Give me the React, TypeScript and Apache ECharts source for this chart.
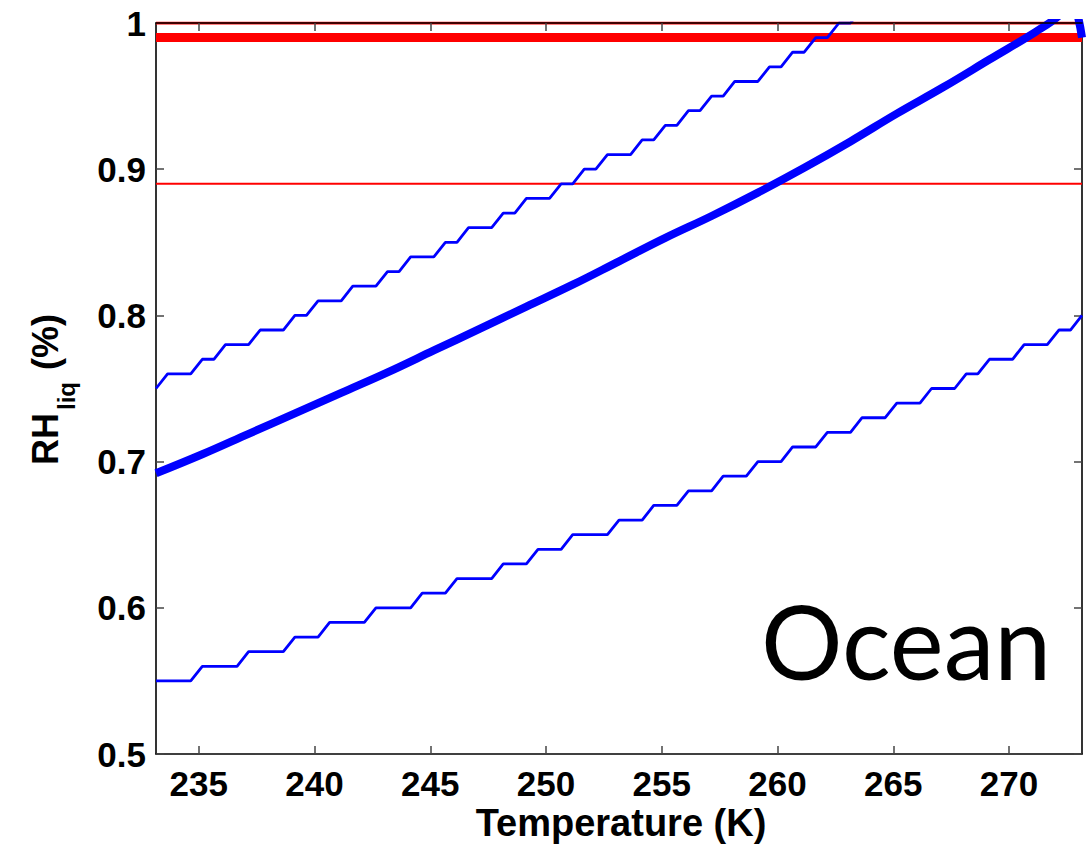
import React, { useEffect, useRef } from 'react';
import * as echarts from 'echarts';

// Temperature grid (K) of the stepped curves
const stepTemps = [
  233.15, 233.65, 234.15, 234.65, 235.15, 235.65, 236.15, 236.65, 237.15, 237.65,
  238.15, 238.65, 239.15, 239.65, 240.15, 240.65, 241.15, 241.65, 242.15, 242.65,
  243.15, 243.65, 244.15, 244.65, 245.15, 245.65, 246.15, 246.65, 247.15, 247.65,
  248.15, 248.65, 249.15, 249.65, 250.15, 250.65, 251.15, 251.65, 252.15, 252.65,
  253.15, 253.65, 254.15, 254.65, 255.15, 255.65, 256.15, 256.65, 257.15, 257.65,
  258.15, 258.65, 259.15, 259.65, 260.15, 260.65, 261.15, 261.65, 262.15, 262.65,
  263.15, 263.65, 264.15, 264.65, 265.15, 265.65, 266.15, 266.65, 267.15, 267.65,
  268.15, 268.65, 269.15, 269.65, 270.15, 270.65, 271.15, 271.65, 272.15, 272.65,
  273.15,
];

const upperStep = [
  0.75, 0.76, 0.76, 0.76, 0.77, 0.77, 0.78, 0.78, 0.78, 0.79,
  0.79, 0.79, 0.80, 0.80, 0.81, 0.81, 0.81, 0.82, 0.82, 0.82,
  0.83, 0.83, 0.84, 0.84, 0.84, 0.85, 0.85, 0.86, 0.86, 0.86,
  0.87, 0.87, 0.88, 0.88, 0.88, 0.89, 0.89, 0.90, 0.90, 0.91,
  0.91, 0.91, 0.92, 0.92, 0.93, 0.93, 0.94, 0.94, 0.95, 0.95,
  0.96, 0.96, 0.96, 0.97, 0.97, 0.98, 0.98, 0.99, 0.99, 1.00,
  1.00, 1.01,
];

const lowerStep = [
  0.55, 0.55, 0.55, 0.55, 0.56, 0.56, 0.56, 0.56, 0.57, 0.57,
  0.57, 0.57, 0.58, 0.58, 0.58, 0.59, 0.59, 0.59, 0.59, 0.60,
  0.60, 0.60, 0.60, 0.61, 0.61, 0.61, 0.62, 0.62, 0.62, 0.62,
  0.63, 0.63, 0.63, 0.64, 0.64, 0.64, 0.65, 0.65, 0.65, 0.65,
  0.66, 0.66, 0.66, 0.67, 0.67, 0.67, 0.68, 0.68, 0.68, 0.69,
  0.69, 0.69, 0.70, 0.70, 0.70, 0.71, 0.71, 0.71, 0.72, 0.72,
  0.72, 0.73, 0.73, 0.73, 0.74, 0.74, 0.74, 0.75, 0.75, 0.75,
  0.76, 0.76, 0.77, 0.77, 0.77, 0.78, 0.78, 0.78, 0.79, 0.79,
  0.80,
];

const thickTemps = [
  233.15, 235.15, 237.15, 239.15, 241.15, 243.15, 245.15, 247.15, 249.15, 251.15,
  253.15, 255.15, 257.15, 259.15, 261.15, 263.15, 265.15, 267.15, 269.15, 271.15,
  272.15, 272.65, 273.15,
];
const thickValues = [
  0.692, 0.705, 0.719, 0.733, 0.747, 0.761, 0.776, 0.791, 0.806, 0.821,
  0.837, 0.853, 0.868, 0.884, 0.901, 0.919, 0.938, 0.956, 0.975, 0.994,
  1.005, 1.015, 0.99,
];

const refLevels = [1.0, 0.99, 0.89];
const refWidths = [3, 9, 2];

const xTicks = [235, 240, 245, 250, 255, 260, 265, 270];
const xMin = 233.15;
const xMax = 273.15;

const FONT = "'Liberation Sans', Arial, Helvetica, sans-serif";

export default function App() {
  const ref = useRef<HTMLDivElement>(null);

  useEffect(() => {
    document.body.style.margin = '0';
    const chart = echarts.init(ref.current as HTMLDivElement, null, { renderer: 'svg' });
    const pair = (xs: number[], ys: number[]) => ys.map((y, i) => [xs[i], y]);

    const refSeries = refLevels.map((lv, i) => ({
      type: 'line',
      data: [[xMin, lv], [xMax, lv]],
      symbol: 'none',
      silent: true,
      clip: true,
      z: 2,
      lineStyle: { color: '#ff0000', width: refWidths[i] },
    }));

    const baseAxisLine = { show: true, lineStyle: { color: '#000', width: 1.6 } };
    const tickStyle = { color: '#444', width: 1.5 };

    chart.setOption({
      animation: false,
      backgroundColor: '#fff',
      grid: { left: 156, right: 9, top: 23, bottom: 92, containLabel: false },
      xAxis: [
        {
          type: 'value', min: xMin, max: xMax, position: 'bottom',
          axisLine: baseAxisLine,
          axisTick: { show: true, inside: true, length: 8, customValues: xTicks, lineStyle: tickStyle },
          axisLabel: { customValues: xTicks, fontSize: 35, fontWeight: 'bold', color: '#000', fontFamily: FONT, margin: 12 },
          splitLine: { show: false },
        },
        {
          type: 'value', min: xMin, max: xMax, position: 'top', z: 6,
          axisLine: baseAxisLine,
          axisTick: { show: true, inside: true, length: 8, customValues: xTicks, lineStyle: tickStyle },
          axisLabel: { show: false },
          splitLine: { show: false },
        },
      ],
      yAxis: [
        {
          type: 'value', min: 0.5, max: 1, interval: 0.1, position: 'left',
          axisLine: baseAxisLine,
          axisTick: { show: true, inside: true, length: 8, lineStyle: tickStyle },
          axisLabel: {
            fontSize: 35, fontWeight: 'bold', color: '#000', fontFamily: FONT, margin: 10,
            formatter: (v: number) => (Math.abs(v - 1) < 1e-9 ? '1' : v.toFixed(1)),
          },
          splitLine: { show: false },
        },
        {
          type: 'value', min: 0.5, max: 1, interval: 0.1, position: 'right',
          axisLine: baseAxisLine,
          axisTick: { show: true, inside: true, length: 8, lineStyle: tickStyle },
          axisLabel: { show: false },
          splitLine: { show: false },
        },
      ],
      series: [
        ...refSeries,
        {
          type: 'line', data: pair(stepTemps, upperStep), symbol: 'none', silent: true, clip: true, z: 3,
          lineStyle: { color: '#0000ff', width: 2.8 },
        },
        {
          type: 'line', data: pair(stepTemps, lowerStep), symbol: 'none', silent: true, clip: true, z: 3,
          lineStyle: { color: '#0000ff', width: 2.8 },
        },
        {
          type: 'line', data: pair(thickTemps, thickValues), symbol: 'none', silent: true, clip: true, z: 4,
          smooth: 0.4,
          lineStyle: { color: '#0000ff', width: 8 },
        },
      ],
      graphic: [
        {
          type: 'text', x: 761, y: 640, z: 10,
          style: { text: 'Ocean', fontSize: 102, fontFamily: "Lato, 'Open Sans', sans-serif", fill: '#000', align: 'left', verticalAlign: 'middle' },
        },
        {
          type: 'text', x: 621, y: 823, z: 10,
          style: { text: 'Temperature (K)', fontSize: 38, fontWeight: 'bold', fontFamily: FONT, fill: '#000', align: 'center', verticalAlign: 'middle' },
        },
        {
          type: 'text', x: 45, y: 439, rotation: Math.PI / 2, z: 10,
          style: { text: 'RH', fontSize: 36, fontWeight: 'bold', fontFamily: FONT, fill: '#000', align: 'center', verticalAlign: 'middle' },
        },
        {
          type: 'text', x: 66, y: 396, rotation: Math.PI / 2, z: 10,
          style: { text: 'liq', fontSize: 24, fontWeight: 'bold', fontFamily: FONT, fill: '#000', align: 'center', verticalAlign: 'middle' },
        },
        {
          type: 'text', x: 45, y: 342, rotation: Math.PI / 2, z: 10,
          style: { text: '(%)', fontSize: 36, fontWeight: 'bold', fontFamily: FONT, fill: '#000', align: 'center', verticalAlign: 'middle' },
        },
      ],
    });

    return () => chart.dispose();
  }, []);

  return <div ref={ref} style={{ width: 1091, height: 846 }} />;
}
